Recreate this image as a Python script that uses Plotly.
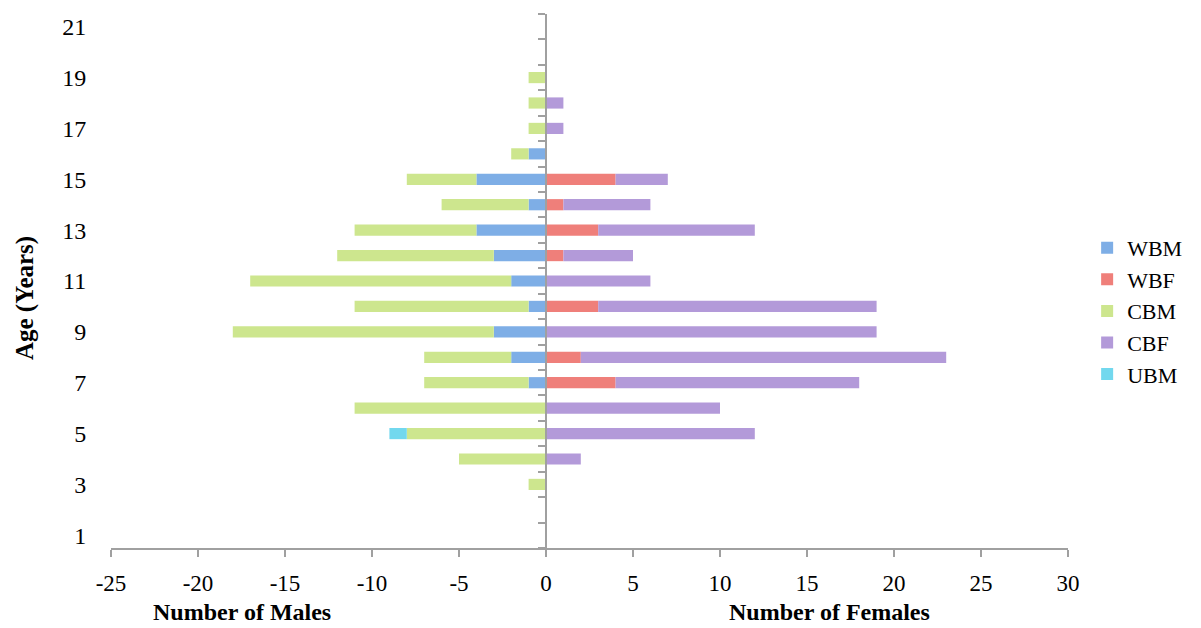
import plotly.graph_objects as go

ages = list(range(1, 22))
# values per age 1..21 (males negative)
WBM = [0, 0, 0, 0, 0, 0, -1, -2, -3, -1, -2, -3, -4, -1, -4, -1, 0, 0, 0, 0, 0]
WBF = [0, 0, 0, 0, 0, 0, 4, 2, 0, 3, 0, 1, 3, 1, 4, 0, 0, 0, 0, 0, 0]
CBM = [0, 0, -1, -5, -8, -11, -6, -5, -15, -10, -15, -9, -7, -5, -4, -1, -1, -1, -1, 0, 0]
CBF = [0, 0, 0, 2, 12, 10, 14, 21, 19, 16, 6, 4, 9, 5, 3, 0, 1, 1, 0, 0, 0]
UBM = [0, 0, 0, 0, -1, 0, 0, 0, 0, 0, 0, 0, 0, 0, 0, 0, 0, 0, 0, 0, 0]

y_ticks = list(range(1, 22, 2))
x_ticks = list(range(-25, 31, 5))

series = [
    ("WBM", WBM, "#7eaee6"),
    ("WBF", WBF, "#ef7f7a"),
    ("CBM", CBM, "#cde68e"),
    ("CBF", CBF, "#b39ad9"),
    ("UBM", UBM, "#72d8ee"),
]

FONT = "Liberation Serif"
AX = "#a0a0a0"

fig = go.Figure()
for name, vals, col in series:
    fig.add_trace(go.Bar(
        y=ages, x=vals, name=name, orientation="h", width=0.44,
        marker=dict(color=col, line=dict(width=0)),
    ))

# invisible trace to carry the secondary (tick) y axis at x=0
fig.add_trace(go.Scatter(x=[0], y=[1], yaxis="y2", mode="markers",
                         marker=dict(opacity=0), showlegend=False, hoverinfo="skip"))

fig.update_layout(
    width=1201, height=628,
    barmode="relative",
    plot_bgcolor="white", paper_bgcolor="white",
    margin=dict(l=103, r=141, t=6, b=88, autoexpand=False),
    font=dict(family=FONT, size=24, color="black"),
    xaxis=dict(
        range=[-25, 30], tickvals=x_ticks, ticktext=[str(v) for v in x_ticks],
        showgrid=False, zeroline=False, showline=True, linecolor=AX, linewidth=2,
        ticks="outside", ticklen=7, tickwidth=2, tickcolor=AX,
        tickfont=dict(family=FONT, size=23), ticklabelstandoff=6, fixedrange=True,
    ),
    yaxis=dict(
        range=[0.5, 21.5], tickvals=y_ticks, ticktext=[str(v) for v in y_ticks],
        showgrid=False, zeroline=False, showline=False,
        ticks="outside", ticklen=19, tickcolor="rgba(0,0,0,0)",
        tickfont=dict(family=FONT, size=24),
    ),
    yaxis2=dict(
        overlaying="y", anchor="free", position=25 / 55, side="left",
        range=[0.5, 21.5], tickvals=[i + 0.5 for i in range(0, 22)],
        showticklabels=False, showgrid=False, zeroline=False,
        showline=True, linecolor=AX, linewidth=2,
        ticks="outside", ticklen=7, tickwidth=2, tickcolor=AX,
    ),
    legend=dict(
        x=1.02, xanchor="left", y=0.444, yanchor="middle",
        traceorder="normal", font=dict(family=FONT, size=22),
        itemsizing="constant", tracegroupgap=0,
    ),
)

fig.add_annotation(text="<b>Age (Years)</b>", x=(17 - 103) / 957, xref="paper", xanchor="center",
                   y=0.468, yref="paper", yanchor="middle", textangle=-90,
                   showarrow=False, font=dict(family=FONT, size=25))
fig.add_annotation(text="<b>Number of Males</b>", x=-17.5, y=-0.146, xref="x", yref="paper",
                   showarrow=False, font=dict(family=FONT, size=24), yanchor="bottom", borderpad=0)
fig.add_annotation(text="<b>Number of Females</b>", x=16.3, y=-0.146, xref="x", yref="paper",
                   showarrow=False, font=dict(family=FONT, size=24), yanchor="bottom", borderpad=0)

fig.write_html("out.html")
